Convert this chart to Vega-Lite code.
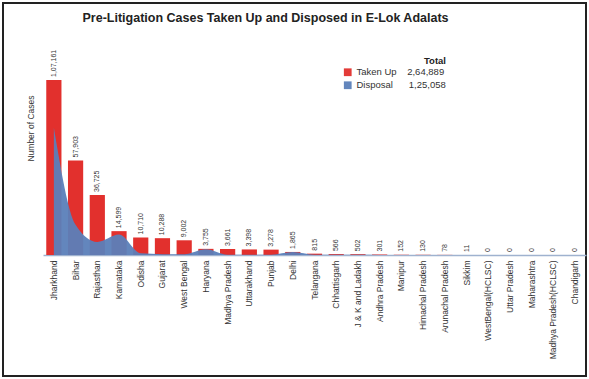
{
  "$schema": "https://vega.github.io/schema/vega-lite/v6.json",
  "autosize": "none",
  "width": 583,
  "height": 373,
  "padding": {"left": 3, "top": 3, "right": 3, "bottom": 3},
  "background": "white",
  "config": {
    "view": {"stroke": "#222", "strokeWidth": 2},
    "font": "Liberation Sans"
  },
  "title": {
    "text": "Pre-Litigation Cases Taken Up and Disposed in E-Lok Adalats",
    "fontSize": 12.5,
    "fontWeight": "bold",
    "color": "#222",
    "anchor": "middle",
    "offset": -21,
    "dx": -29
  },
  "data": {
    "values": [
      {"state": "Jharkhand", "taken": 107161, "disposal": 77908, "label": "1,07,161"},
      {"state": "Bihar", "taken": 57903, "disposal": 18500, "label": "57,903"},
      {"state": "Rajasthan", "taken": 36725, "disposal": 8000, "label": "36,725"},
      {"state": "Karnataka", "taken": 14599, "disposal": 12500, "label": "14,599"},
      {"state": "Odisha", "taken": 10710, "disposal": 1000, "label": "10,710"},
      {"state": "Gujarat", "taken": 10288, "disposal": 500, "label": "10,288"},
      {"state": "West Bengal", "taken": 9002, "disposal": 500, "label": "9,002"},
      {"state": "Haryana", "taken": 3755, "disposal": 3500, "label": "3,755"},
      {"state": "Madhya Pradesh", "taken": 3661, "disposal": 200, "label": "3,661"},
      {"state": "Uttarakhand", "taken": 3398, "disposal": 150, "label": "3,398"},
      {"state": "Punjab", "taken": 3278, "disposal": 150, "label": "3,278"},
      {"state": "Delhi", "taken": 1865, "disposal": 1800, "label": "1,865"},
      {"state": "Telangana", "taken": 815, "disposal": 150, "label": "815"},
      {"state": "Chhattisgarh", "taken": 566, "disposal": 100, "label": "566"},
      {"state": "J & K and Ladakh", "taken": 502, "disposal": 100, "label": "502"},
      {"state": "Andhra Pradesh", "taken": 301, "disposal": 0, "label": "301"},
      {"state": "Manipur", "taken": 152, "disposal": 0, "label": "152"},
      {"state": "Himachal Pradesh", "taken": 130, "disposal": 0, "label": "130"},
      {"state": "Arunachal Pradesh", "taken": 78, "disposal": 0, "label": "78"},
      {"state": "Sikkim", "taken": 11, "disposal": 0, "label": "11"},
      {"state": "WestBengal(HCLSC)", "taken": 0, "disposal": 0, "label": "0"},
      {"state": "Uttar Pradesh", "taken": 0, "disposal": 0, "label": "0"},
      {"state": "Maharashtra", "taken": 0, "disposal": 0, "label": "0"},
      {"state": "Madhya Pradesh(HCLSC)", "taken": 0, "disposal": 0, "label": "0"},
      {"state": "Chandigarh", "taken": 0, "disposal": 0, "label": "0"}
    ]
  },
  "encoding": {
    "x": {
      "field": "state",
      "type": "nominal",
      "sort": null,
      "scale": {"range": [40, 583], "paddingInner": 0.3, "paddingOuter": 0.15},
      "axis": {
        "title": null,
        "offset": -121,
        "labelAngle": -90,
        "labelFontSize": 8.5,
        "labelColor": "#333",
        "labelPadding": 5,
        "ticks": false,
        "domainColor": "#9fb2cf",
        "domainWidth": 1.5
      }
    },
    "y": {
      "type": "quantitative",
      "scale": {"domain": [-74100, 154300], "nice": false, "zero": false},
      "axis": {
        "title": "Number of Cases",
        "titleFontSize": 8.5,
        "titleFontWeight": "normal",
        "titleColor": "#333",
        "titleX": 27,
        "titleY": 125,
        "titleAngle": -90,
        "titleAlign": "center",
        "titleBaseline": "middle",
        "labels": false,
        "ticks": false,
        "domain": false,
        "grid": false
      }
    }
  },
  "layer": [
    {
      "mark": {"type": "bar"},
      "encoding": {
        "y": {"field": "taken", "type": "quantitative"},
        "y2": {"datum": 0},
        "color": {
          "datum": "Taken Up",
          "type": "nominal",
          "scale": {"domain": ["Taken Up", "Disposal"], "range": ["#e2302d", "#5b80b9"]},
          "legend": {
            "orient": "none",
            "legendX": 340,
            "legendY": 53,
            "title": "Total",
            "titleAnchor": "end",
            "titleFontSize": 9.5,
            "titleFontWeight": "bold",
            "titleColor": "#222",
            "titlePadding": 2,
            "symbolType": "square",
            "symbolSize": 60,
            "symbolStrokeWidth": 0,
            "labelFontSize": 9.5,
            "labelColor": "#333",
            "rowPadding": 2,
            "labelExpr": "datum.label == 'Taken Up' ? 'Taken Up\u00a0\u00a0\u00a0\u00a02,64,889' : 'Disposal\u00a0\u00a0\u00a0\u00a0\u00a0\u00a01,25,058'"
          }
        }
      }
    },
    {
      "mark": {"type": "area", "interpolate": "monotone", "opacity": 0.95},
      "encoding": {
        "y": {"field": "disposal", "type": "quantitative"},
        "y2": {"datum": 0},
        "color": {"datum": "Disposal", "type": "nominal"}
      }
    },
    {
      "mark": {"type": "text", "angle": 270, "align": "left", "baseline": "middle", "dx": 3, "fontSize": 7, "color": "#333"},
      "encoding": {
        "y": {"field": "taken", "type": "quantitative"},
        "text": {"field": "label"}
      }
    }
  ]
}
